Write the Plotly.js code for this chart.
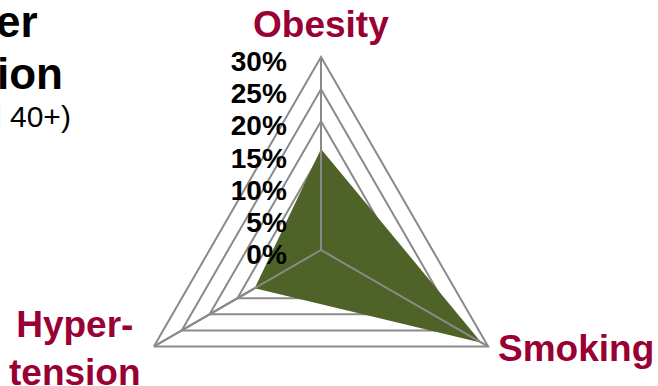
<!DOCTYPE html>
<html><head><meta charset="utf-8">
<script src="https://cdn.plot.ly/plotly-3.0.1.min.js"></script>
<style>html,body{margin:0;padding:0;overflow:hidden;background:#fff}#chart{width:658px;height:460px}</style>
</head><body><div id="chart"></div>
<script>
const categories = ['Obesity', 'Smoking', 'Hyper-<br>tension'];
const values = [15.7, 28.8, 11.9];
const radialTickVals = [0, 5, 10, 15, 20, 25, 30];
const radialTickText = ['0%', '5%', '10%', '15%', '20%', '25%', '30%'];
const titleLines = ['er', 'ion', 'l 40+)'];
const RMAX = 30;

const W = 658, H = 460;
const cx = 321, cy = 250, R = 193;
const GRID = '#8a8a8a';
const FONT = 'Arial, "Liberation Sans", sans-serif';
const LABEL_COLOR = '#990033';

// spokes drawn above the fill (as in the original)
const spokeR = [], spokeT = [];
categories.forEach(c => { spokeR.push(0, RMAX, null); spokeT.push(c, c, c); });

const traces = [
  {
    type: 'scatterpolar',
    r: values.concat([values[0]]),
    theta: categories.concat([categories[0]]),
    fill: 'toself',
    fillcolor: '#4F6228',
    line: {width: 0, color: '#4F6228'},
    mode: 'lines',
    hoverinfo: 'skip'
  },
  {
    type: 'scatterpolar',
    r: spokeR,
    theta: spokeT,
    mode: 'lines',
    line: {color: GRID, width: 2},
    hoverinfo: 'skip'
  }
];

// title fragments (the original title is cropped at the left edge)
const titleY = [22, 74, 116];
const titleRight = [40, 65, 73];
const titleSize = [44, 44, 30];
const titleWeight = [700, 700, 400];
const annotations = titleLines.map((t, i) => ({
  text: t, xref: 'paper', yref: 'paper',
  x: titleRight[i] / W, y: 1 - titleY[i] / H,
  xanchor: 'right', yanchor: 'middle', showarrow: false,
  font: {family: FONT, size: titleSize[i], color: '#000', weight: titleWeight[i]}
}));

// category labels placed outside each vertex of the radar (rotation 90, clockwise)
categories.forEach((c, i) => {
  const ang = (90 - i * 360 / categories.length) * Math.PI / 180;
  const cos = Math.cos(ang), sin = Math.sin(ang);
  const vx = cx + R * cos, vy = cy - R * sin;
  let xa, ya, px, py;
  if (Math.abs(cos) < 0.1) { xa = 'center'; ya = 'bottom'; px = vx; py = vy - 10; }
  else { xa = cos > 0 ? 'left' : 'right'; ya = 'middle'; px = vx + (cos > 0 ? 8 : -11); py = vy + 2; }
  annotations.push({
    text: c, xref: 'paper', yref: 'paper',
    x: px / W, y: 1 - py / H, xanchor: xa, yanchor: ya, align: 'center',
    showarrow: false,
    font: {family: FONT, size: 37, color: LABEL_COLOR, weight: 700}
  });
});

const layout = {
  width: W, height: H,
  margin: {l: 0, r: 0, t: 0, b: 0},
  paper_bgcolor: '#fff',
  showlegend: false,
  polar: {
    domain: {x: [(cx - R) / W, (cx + R) / W], y: [1 - (cy + R) / H, 1 - (cy - R) / H]},
    gridshape: 'linear',
    bgcolor: '#fff',
    angularaxis: {
      rotation: 90, direction: 'clockwise',
      showline: true, linecolor: GRID, linewidth: 2,
      gridcolor: GRID, gridwidth: 2,
      ticks: '', showticklabels: false
    },
    radialaxis: {
      range: [0, RMAX], angle: 90,
      tickvals: radialTickVals, ticktext: radialTickText,
      showline: true, linecolor: GRID, linewidth: 2,
      gridcolor: GRID, gridwidth: 2,
      ticks: 'outside', ticklen: 8, tickcolor: 'rgba(0,0,0,0)',
      side: 'counterclockwise',
      layer: 'above traces',
      tickfont: {family: FONT, size: 28, color: '#000', weight: 700}
    }
  },
  annotations: annotations
};

Plotly.newPlot('chart', traces, layout, {displayModeBar: false, staticPlot: true});
</script>
</body></html>
